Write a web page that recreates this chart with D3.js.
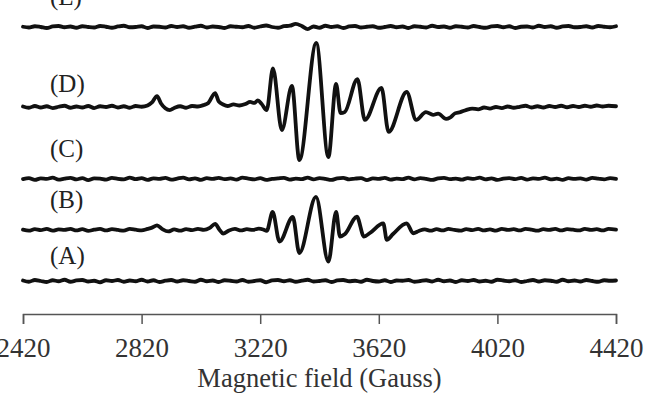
<!DOCTYPE html>
<html><head><meta charset="utf-8">
<script src="https://cdn.jsdelivr.net/npm/d3@7"></script>
<style>
html,body{margin:0;padding:0;background:#fff;}
svg{display:block;}
text{font-family:"Liberation Serif","Times New Roman",serif;}
</style></head>
<body>
<svg id="chart" width="646" height="396"></svg>
<script>
// ---- data ----
const fieldDomain = [2420, 4420];
const tickValues = [2420, 2820, 3220, 3620, 4020, 4420];
const axisTitle = "Magnetic field (Gauss)";
const seriesNames = ["(A)", "(B)", "(C)", "(D)", "(E)"];
const offsets = [0, 20.1, 40.2, 68.5, 100];          // vertical stacking (a.u.)
const labelLevels = [6.7, 28.7, 48.8, 74.4, 108.7];   // label baseline (a.u.)

// flat noisy traces: evenly spaced over the field range (a.u.)
const traceA = [0.2,-0.3,0.4,0.0,-0.4,0.3,-0.1,0.5,-0.3,0.2,0.4,-0.2,0.1,-0.5,0.3,0.0,0.4,-0.3,0.2,-0.1,0.5,-0.2,0.3,-0.4,0.1,0.4,-0.2,0.3,0.0,-0.3,0.5,-0.1,0.2,-0.4,0.3,0.1,-0.2,0.4,-0.3,0.0,0.3,-0.5,0.2,0.4,-0.1,0.3,-0.3,0.1,0.5,-0.2,0.0,0.3,-0.4,0.2,0.4,-0.1,0.1,-0.3,0.5,0.0,-0.2,0.3,-0.4,0.2,0.1,0.4,-0.3,0.0,0.3,-0.2,0.5,-0.1,0.2,-0.4,0.3,0.0,0.4,-0.2,0.1,-0.3,0.5,0.2,-0.1,0.3,-0.4,0.0,0.4,-0.2,0.3,0.1,-0.3,0.5,-0.1,0.2,-0.2,0.4,0.0,-0.3,0.3,0.1,0.2];
const traceC = [-0.1,0.3,-0.4,0.2,0.0,0.5,-0.3,0.1,0.4,-0.2,0.3,-0.5,0.2,0.1,-0.3,0.4,0.0,-0.2,0.5,-0.1,0.3,-0.4,0.2,0.0,0.4,-0.3,0.1,0.5,-0.2,0.2,-0.4,0.3,0.0,0.4,-0.1,0.2,-0.3,0.5,0.1,-0.2,0.3,-0.4,0.0,0.2,0.4,-0.3,0.1,-0.1,0.5,-0.2,0.3,0.0,-0.4,0.2,0.4,-0.2,0.1,0.3,-0.5,0.2,0.0,0.4,-0.3,0.1,-0.1,0.5,-0.2,0.3,0.0,-0.4,0.2,0.4,-0.1,0.1,-0.3,0.3,0.0,0.5,-0.2,0.2,-0.4,0.1,0.3,-0.1,0.4,-0.3,0.2,0.0,0.5,-0.2,0.1,-0.4,0.3,0.0,0.2,-0.3,0.4,0.1,-0.2,0.3,0.0];
const traceE = [0.1,-0.2,0.3,0.0,-0.4,0.2,0.4,-0.1,0.2,-0.3,0.3,0.0,-0.2,0.4,0.1,-0.3,0.2,0.5,-0.1,0.0,0.3,-0.4,0.2,0.1,-0.2,0.4,0.0,0.3,-0.3,0.1,0.5,-0.2,0.2,0.0,-0.4,0.3,0.1,-0.1,0.4,-0.3,0.2,0.6,0.0,-0.3,0.3,0.5,1.2,0.4,-0.8,0.2,-0.3,0.5,0.0,0.3,-0.4,0.2,0.4,-0.2,0.1,0.3,-0.3,0.0,0.4,-0.1,0.2,-0.4,0.3,0.1,-0.2,0.5,0.0,0.2,-0.3,0.3,0.1,-0.2,0.4,0.0,-0.3,0.2,0.4,-0.1,0.3,-0.4,0.1,0.2,-0.2,0.5,0.0,0.3,-0.3,0.2,0.4,-0.1,0.0,0.3,-0.2,0.4,0.1,-0.1,0.3];

// traces with signal: [field (G), intensity (a.u.)]
const traceB = [[2420,0.1],[2440,-0.3],[2460,0.3],[2480,-0.1],[2500,0.4],[2520,-0.3],[2540,0.2],[2560,0.0],[2580,0.4],[2600,-0.2],[2620,0.3],[2640,-0.4],[2660,0.1],[2680,0.4],[2700,-0.2],[2720,0.3],[2740,0.0],[2760,-0.3],[2780,0.4],[2800,0.1],[2820,-0.2],[2840,0.4],[2855,0.9],[2872,1.8],[2890,0.3],[2910,-0.6],[2930,0.2],[2950,-0.3],[2970,0.3],[2990,-0.1],[3010,0.4],[3030,0.0],[3050,0.8],[3068,2.4],[3082,0.2],[3095,-1.4],[3115,-0.2],[3135,0.4],[3155,-0.2],[3175,0.3],[3195,0.0],[3215,0.5],[3230,0.2],[3242,-0.4],[3262,7.1],[3285,-4.6],[3330,5.1],[3352,-9.1],[3408,13.0],[3450,-12.5],[3476,7.1],[3489,-2.6],[3506,-1.6],[3546,5.2],[3570,-2.6],[3590,-1.2],[3635,2.6],[3647,-3.9],[3668,-1.6],[3714,2.6],[3736,-1.3],[3755,-0.4],[3775,0.2],[3795,-0.3],[3815,0.3],[3835,-0.2],[3855,0.4],[3875,0.0],[3895,-0.3],[3915,0.3],[3935,-0.1],[3955,0.4],[3975,-0.2],[3995,0.2],[4015,-0.3],[4035,0.4],[4055,0.0],[4075,0.3],[4095,-0.2],[4115,0.4],[4135,0.1],[4155,-0.3],[4175,0.3],[4195,0.0],[4215,0.4],[4235,-0.2],[4255,0.3],[4275,0.1],[4295,-0.2],[4315,0.4],[4335,0.0],[4355,0.3],[4375,-0.2],[4395,0.4],[4420,0.1]];
const traceD = [[2420,0.2],[2440,-0.3],[2460,0.4],[2480,-0.2],[2500,0.3],[2520,-0.4],[2540,0.1],[2560,0.5],[2580,-0.3],[2600,0.2],[2620,-0.2],[2640,0.4],[2660,-0.4],[2680,0.3],[2700,0.0],[2720,0.5],[2740,-0.2],[2760,0.3],[2780,-0.3],[2800,0.4],[2820,0.1],[2840,0.6],[2855,1.8],[2872,4.3],[2885,1.5],[2900,-0.5],[2915,-1.2],[2930,-0.4],[2950,0.3],[2970,-0.3],[2990,0.4],[3010,0.2],[3030,0.8],[3045,1.6],[3068,5.5],[3080,2.2],[3095,1.0],[3110,0.4],[3130,1.0],[3150,0.6],[3170,1.2],[3186,2.0],[3200,1.6],[3212,2.6],[3225,1.2],[3242,-1.2],[3263,15.2],[3293,-9.1],[3327,8.3],[3352,-20.9],[3409,25.2],[3450,-19.7],[3476,9.1],[3491,-2.4],[3505,-2.0],[3548,11.0],[3573,-5.1],[3629,7.5],[3653,-9.8],[3714,5.9],[3746,-5.1],[3779,-2.0],[3803,-3.1],[3820,-2.6],[3847,-4.7],[3860,-4.2],[3877,-2.5],[3895,-2.0],[3914,-1.2],[3935,-0.6],[3955,-0.9],[3975,-0.2],[3995,-0.6],[4015,0.0],[4035,-0.4],[4055,0.2],[4075,-0.3],[4095,0.1],[4115,0.5],[4135,-0.2],[4155,0.3],[4175,-0.2],[4195,0.4],[4215,0.0],[4235,0.5],[4255,-0.1],[4275,0.4],[4295,0.0],[4315,0.5],[4335,0.1],[4355,0.6],[4375,0.2],[4395,0.5],[4420,0.3]];

// ---- build ----
function evenly(vals) {
  const n = vals.length;
  return vals.map((v, i) => [fieldDomain[0] + i * (fieldDomain[1] - fieldDomain[0]) / (n - 1), v]);
}
const traces = [evenly(traceA), traceB, evenly(traceC), traceD, evenly(traceE)];

const svg = d3.select("#chart");
const x = d3.scaleLinear().domain(fieldDomain).range([23, 616]);
const y = d3.scaleLinear().domain([0, 100]).range([281, 27]);

const line = d3.line().x(d => x(d[0])).y(d => y(d[1])).curve(d3.curveMonotoneX);

traces.forEach((tr, i) => {
  svg.append("path")
    .datum(tr.map(d => [d[0], d[1] + offsets[i]]))
    .attr("d", line)
    .attr("fill", "none")
    .attr("stroke", "#111")
    .attr("stroke-width", 3.8)
    .attr("stroke-linejoin", "round")
    .attr("stroke-linecap", "round");
});

svg.selectAll("text.lbl").data(seriesNames).enter().append("text")
  .attr("class", "lbl")
  .attr("x", 50)
  .attr("y", (d, i) => y(labelLevels[i]))
  .attr("font-size", 25)
  .attr("fill", "#222")
  .text(d => d);

const axis = d3.axisBottom(x).tickValues(tickValues).tickFormat(d3.format("d"))
  .tickSize(10).tickSizeOuter(10).tickPadding(14);
const gx = svg.append("g").attr("transform", "translate(0,314)").call(axis);
gx.select(".domain").attr("stroke", "#555").attr("stroke-width", 1.5);
gx.selectAll(".tick line").attr("stroke", "#555").attr("stroke-width", 1.5);
gx.selectAll(".tick text").attr("font-size", 27).attr("fill", "#333")
  .attr("font-family", "Liberation Serif, serif");

svg.append("text")
  .attr("x", (x.range()[0] + x.range()[1]) / 2)
  .attr("y", 387)
  .attr("text-anchor", "middle")
  .attr("font-size", 26.5)
  .attr("fill", "#333")
  .text(axisTitle);
</script>
</body></html>
